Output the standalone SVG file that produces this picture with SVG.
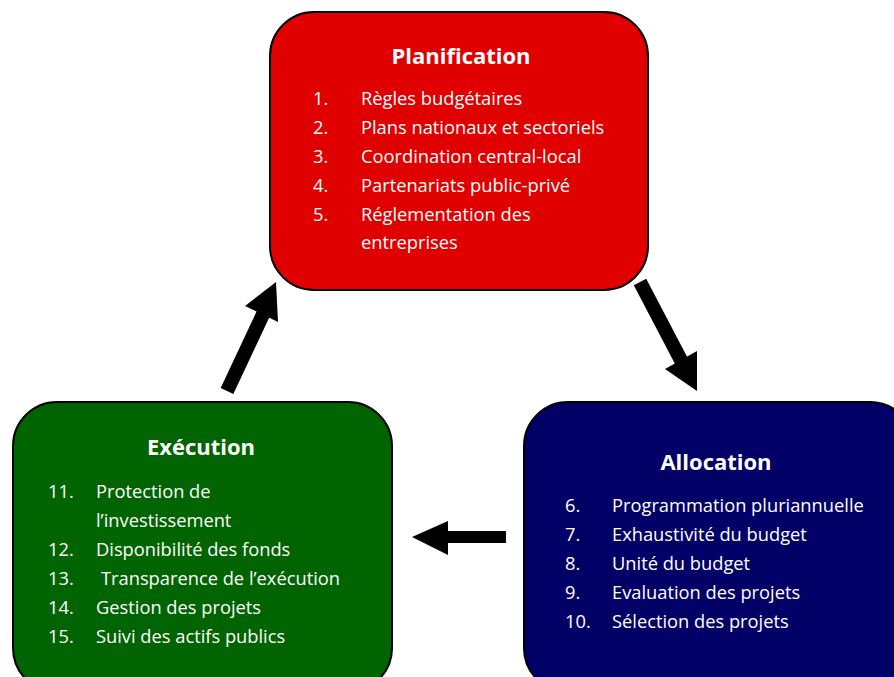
<svg xmlns="http://www.w3.org/2000/svg" width="894" height="677" viewBox="0 0 894 677">
<style>
.box{stroke:#000;stroke-width:2}
.t{font-family:"Open Sans","Noto Sans","DejaVu Sans",sans-serif;fill:#fff}
.h{font-size:22px;font-weight:bold;text-anchor:middle}
.i{font-size:18.3px}
.sh{stroke:#000;fill:none}
</style>
<rect width="894" height="677" fill="#fff"/>
<g id="planification">
<rect class="box" x="270" y="12" width="378" height="278" rx="44" fill="#E00000"/>
<text class="t h" x="461" y="64">Planification</text>
<g class="t i">
<text x="313" y="105">1.</text><text x="361" y="105">Règles budgétaires</text>
<text x="313" y="134">2.</text><text x="361" y="134">Plans nationaux et sectoriels</text>
<text x="313" y="163">3.</text><text x="361" y="163">Coordination central-local</text>
<text x="313" y="192">4.</text><text x="361" y="192">Partenariats public-privé</text>
<text x="313" y="221">5.</text><text x="361" y="221">Réglementation des</text>
<text x="361" y="249">entreprises</text>
</g>
</g>
<g id="execution">
<rect class="box" x="13" y="402" width="379" height="290" rx="44" fill="#006400"/>
<text class="t h" x="201" y="455">Exécution</text>
<g class="t i">
<text x="48" y="498">11.</text><text x="96" y="498">Protection de</text>
<text x="96" y="527">l’investissement</text>
<text x="48" y="556">12.</text><text x="96" y="556">Disponibilité des fonds</text>
<text x="48" y="585">13.</text><text x="101" y="585">Transparence de l’exécution</text>
<text x="48" y="614">14.</text><text x="96" y="614">Gestion des projets</text>
<text x="48" y="643">15.</text><text x="96" y="643">Suivi des actifs publics</text>
</g>
</g>
<g id="allocation">
<rect class="box" x="524" y="402" width="390" height="290" rx="44" fill="#000066"/>
<text class="t h" x="716" y="470">Allocation</text>
<g class="t i">
<text x="565" y="512">6.</text><text x="612" y="512">Programmation pluriannuelle</text>
<text x="565" y="541">7.</text><text x="612" y="541">Exhaustivité du budget</text>
<text x="565" y="570">8.</text><text x="612" y="570">Unité du budget</text>
<text x="565" y="599">9.</text><text x="612" y="599">Evaluation des projets</text>
<text x="565" y="628">10.</text><text x="612" y="628">Sélection des projets</text>
</g>
</g>
<g id="connectors">
<line class="sh" x1="227" y1="391" x2="265" y2="310" stroke-width="14"/>
<polygon points="276,282 245,306 278,322" fill="#000"/>
<line class="sh" x1="640" y1="282" x2="684" y2="366" stroke-width="14"/>
<polygon points="665,369 697,351 697,391" fill="#000"/>
<rect x="440" y="531" width="66" height="12" fill="#000"/>
<polygon points="412,537 448,521 448,555" fill="#000"/>
</g>
</svg>
